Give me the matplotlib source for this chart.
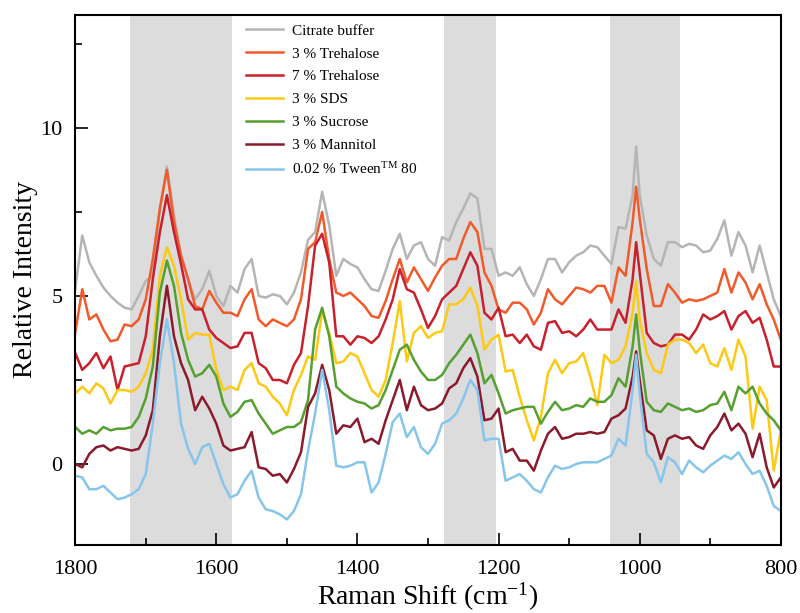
import numpy as np
import matplotlib
matplotlib.use("Agg")
import matplotlib.pyplot as plt

plt.rcParams['font.family'] = ['Liberation Serif', 'DejaVu Serif']
plt.rcParams['mathtext.fontset'] = 'custom'
plt.rcParams['mathtext.rm'] = 'Liberation Serif'
plt.rcParams['mathtext.it'] = 'Liberation Serif:italic'

# Raman shift grid (cm^-1)
wavenumber = [1800, 1790, 1780, 1770, 1760, 1750, 1740, 1730, 1720, 1710,
              1700, 1690, 1680, 1670, 1660, 1650, 1640, 1630, 1620, 1610,
              1600, 1590, 1580, 1570, 1560, 1550, 1540, 1530, 1520, 1510,
              1500, 1490, 1480, 1470, 1460, 1450, 1440, 1430, 1420, 1410,
              1400, 1390, 1380, 1370, 1360, 1350, 1340, 1330, 1320, 1310,
              1300, 1290, 1280, 1270, 1260, 1250, 1240, 1230, 1220, 1210,
              1200, 1190, 1180, 1170, 1160, 1150, 1140, 1130, 1120, 1110,
              1100, 1090, 1080, 1070, 1060, 1050, 1040, 1030, 1020, 1010,
              1005, 1000, 990, 980, 970, 960, 950, 940, 930, 920,
              910, 900, 890, 880, 870, 860, 850, 840, 830, 820,
              810, 800]

citrate = [5.2, 6.8, 6.0, 5.6, 5.25, 5.0, 4.8, 4.65, 4.6, 5.0,
           5.45, 5.6, 7.6, 8.85, 7.4, 6.2, 5.5, 4.9, 5.2, 5.75,
           5.0, 4.7, 5.3, 5.1, 5.8, 6.1, 5.0, 4.95, 5.05, 5.0,
           4.75, 5.1, 5.7, 6.67, 6.9, 8.1, 7.1, 5.6, 6.1, 5.95,
           5.85, 5.5, 5.2, 5.15, 5.75, 6.4, 6.85, 6.1, 6.5, 6.6,
           6.1, 5.9, 6.75, 6.65, 7.2, 7.6, 8.05, 7.9, 6.4, 6.4,
           5.6, 5.7, 5.6, 5.85, 5.35, 5.0, 5.5, 6.1, 6.1, 5.7,
           6.0, 6.2, 6.3, 6.5, 6.45, 6.2, 5.95, 7.05, 7.0, 8.0,
           9.45, 8.0, 6.8, 6.1, 5.9, 6.6, 6.6, 6.45, 6.55, 6.5,
           6.3, 6.35, 6.7, 7.25, 6.2, 6.9, 6.5, 5.7, 6.5, 5.7,
           4.9, 4.4]

treh3 = [3.9, 5.2, 4.3, 4.45, 4.0, 3.65, 3.7, 4.15, 4.1, 4.3,
         4.9, 6.1, 7.6, 8.75, 7.2, 6.2, 5.5, 4.7, 4.6, 5.15,
         4.8, 4.5, 4.5, 4.4, 4.9, 5.2, 4.3, 4.1, 4.3, 4.2,
         4.1, 4.3, 4.9, 6.4, 6.6, 7.5, 6.1, 5.1, 5.0, 5.1,
         4.9, 4.7, 4.4, 4.35, 4.85, 5.5, 6.1, 5.4, 5.85, 5.5,
         5.15, 5.55, 5.9, 6.1, 6.1, 6.7, 7.2, 6.9, 5.7, 5.3,
         4.6, 4.5, 4.8, 4.8, 4.6, 4.15, 4.5, 5.2, 4.9, 4.75,
         5.0, 5.25, 5.2, 5.1, 5.3, 5.3, 4.8, 5.85, 5.6, 7.2,
         8.25, 7.3, 5.8, 4.7, 4.7, 5.35, 5.1, 4.8, 4.9, 4.85,
         4.9, 5.0, 5.1, 5.8, 5.1, 5.7, 5.4, 4.9, 5.35, 4.75,
         4.3, 3.7]

treh7 = [3.3, 2.8, 3.0, 3.3, 2.85, 3.2, 2.2, 2.9, 2.95, 3.0,
         3.8, 5.5, 6.9, 8.0, 6.9, 5.95, 4.9, 4.6, 4.6, 4.0,
         3.75, 3.6, 3.45, 3.5, 3.9, 3.9, 3.0, 2.85, 2.5, 2.5,
         2.4, 2.95, 3.3, 4.7, 6.5, 6.85, 6.0, 3.8, 3.8, 3.55,
         3.8, 3.75, 3.6, 3.8, 4.3, 4.9, 5.8, 5.2, 5.1, 4.6,
         4.05, 4.4, 4.9, 5.1, 5.3, 5.8, 6.3, 5.9, 4.5, 4.3,
         4.65, 3.8, 3.85, 3.6, 3.85, 3.5, 3.4, 4.2, 4.25, 3.9,
         3.95, 3.8, 4.0, 4.3, 4.0, 4.0, 4.0, 4.6, 4.2, 5.5,
         6.6, 5.7, 3.9, 3.6, 3.5, 3.55, 3.85, 3.85, 3.7, 4.0,
         4.45, 4.3, 4.4, 4.55, 4.0, 4.4, 4.55, 4.2, 4.35, 3.7,
         2.9, 2.9]

sds = [2.1, 2.3, 2.1, 2.4, 2.25, 1.8, 2.2, 2.2, 2.15, 2.3,
       2.7, 3.4, 5.6, 6.45, 5.9, 4.9, 3.7, 3.9, 3.85, 3.85,
       2.8, 2.2, 2.3, 2.2, 2.8, 3.0, 2.4, 2.3, 2.0, 1.8,
       1.45, 2.2, 2.65, 3.2, 3.1, 4.55, 3.9, 3.0, 3.05, 3.3,
       3.2, 2.7, 2.2, 2.0, 2.5, 3.6, 4.85, 3.05, 3.9, 4.1,
       3.75, 3.9, 3.95, 4.75, 4.75, 4.9, 5.25, 4.7, 3.4, 3.7,
       3.85, 2.75, 2.8, 2.0, 1.3, 0.7, 1.4, 2.7, 3.1, 2.7,
       3.0, 3.05, 3.3, 2.6, 1.75, 3.25, 3.0, 3.1, 3.5, 4.5,
       5.45, 4.3, 3.3, 2.8, 2.7, 3.55, 3.7, 3.7, 3.6, 3.3,
       3.55, 3.0, 2.9, 3.45, 2.8, 3.7, 3.2, 1.05, 2.3, 1.9,
       -0.2, 1.0]

sucrose = [1.1, 0.9, 1.0, 0.9, 1.1, 1.0, 1.05, 1.05, 1.1, 1.4,
           1.95, 2.9, 5.1, 6.05, 5.3, 3.9, 3.1, 2.6, 2.7, 2.95,
           2.6, 1.8, 1.4, 1.55, 1.85, 1.9, 1.5, 1.2, 0.9, 1.0,
           1.1, 1.1, 1.25, 1.9, 4.0, 4.65, 3.8, 2.3, 2.1, 1.95,
           1.85, 1.8, 1.65, 1.75, 2.2, 2.8, 3.4, 3.55, 3.1, 2.75,
           2.5, 2.5, 2.65, 3.0, 3.25, 3.55, 3.85, 3.3, 2.4, 2.65,
           2.1, 1.5, 1.6, 1.65, 1.7, 1.7, 1.2, 1.55, 1.85, 1.6,
           1.65, 1.75, 1.7, 1.95, 1.85, 1.85, 2.05, 2.55, 2.3, 3.5,
           4.45, 3.4, 1.85, 1.6, 1.55, 1.8, 1.7, 1.6, 1.65, 1.55,
           1.6, 1.75, 1.8, 2.15, 1.6, 2.3, 2.1, 2.3, 1.8, 1.5,
           1.3, 1.0]

mannitol = [0.0, -0.1, 0.3, 0.5, 0.55, 0.4, 0.5, 0.45, 0.4, 0.45,
            0.85, 1.6, 3.8, 5.3, 3.8, 3.0, 2.5, 1.6, 2.0, 1.65,
            1.2, 0.55, 0.4, 0.45, 0.5, 0.95, -0.1, -0.15, -0.35, -0.3,
            -0.55, -0.15, 0.35, 1.7, 2.1, 2.95, 2.2, 0.9, 1.15, 1.1,
            1.35, 0.65, 0.75, 0.6, 1.3, 1.9, 2.5, 1.6, 2.3, 1.75,
            1.6, 1.65, 1.8, 2.25, 2.4, 2.85, 3.15, 2.6, 1.3, 1.35,
            1.65, 0.35, 0.45, 0.1, 0.1, -0.2, 0.4, 0.9, 1.1, 0.75,
            0.8, 0.9, 0.9, 0.95, 0.9, 0.95, 1.35, 1.45, 1.65, 2.6,
            3.35, 2.5, 1.0, 0.85, 0.15, 0.75, 0.85, 0.75, 0.8, 0.55,
            0.45, 0.85, 1.1, 1.5, 1.0, 1.2, 0.9, 0.2, 0.9, -0.1,
            -0.7, -0.4]

tween = [-0.35, -0.4, -0.75, -0.75, -0.65, -0.85, -1.05, -1.0, -0.9, -0.75,
         -0.3, 1.2, 3.0, 4.3, 3.0, 1.2, 0.45, 0.0, 0.5, 0.6,
         0.0, -0.6, -1.0, -0.9, -0.5, -0.2, -1.0, -1.35, -1.4, -1.5,
         -1.65, -1.4, -0.9, 0.4, 1.5, 2.8, 1.6, -0.05, -0.1, -0.05,
         0.05, 0.05, -0.85, -0.55, 0.3, 1.25, 1.5, 0.8, 1.1, 0.5,
         0.3, 0.6, 1.2, 1.3, 1.5, 1.95, 2.5, 2.2, 0.7, 0.75,
         0.75, -0.5, -0.4, -0.3, -0.5, -0.75, -0.85, -0.4, -0.05, -0.15,
         -0.1, 0.0, 0.05, 0.05, 0.05, 0.15, 0.25, 0.75, 0.55, 2.2,
         3.25, 2.1, 0.3, 0.05, -0.55, 0.2, 0.05, -0.3, 0.1, -0.1,
         -0.25, -0.05, 0.1, 0.25, 0.15, 0.35, 0.0, -0.3, -0.2, -0.65,
         -1.25, -1.4]

labels = ["Citrate buffer", "3 % Trehalose", "7 % Trehalose", "3 % SDS",
          "3 % Sucrose", "3 % Mannitol", "0.02 % Tween$^{\\mathrm{TM}}$ 80"]
colors = ["#b5b5b5", "#f15a2b", "#c8202c", "#fcc915", "#55a02f", "#8b1a2c", "#86c5ec"]
series = [citrate, treh3, treh7, sds, sucrose, mannitol, tween]

# shaded regions (cm^-1)
band_hi = [1722, 1277, 1042]
band_lo = [1578, 1203, 943]

fig = plt.figure(figsize=(8.0, 6.13), dpi=100)
ax = fig.add_axes([0.094, 0.111, 0.882, 0.8645])

for hi, lo in zip(band_hi, band_lo):
    ax.axvspan(lo, hi, color="#dcdcdc", lw=0, zorder=0)

for y, c, lab in zip(series, colors, labels):
    ax.plot(wavenumber, y, color=c, lw=1.8, label=lab, zorder=2,
            solid_joinstyle="round")

ax.set_xlim(1800, 800)
ax.set_ylim(-2.41, 13.36)
ax.set_xticks([1800, 1600, 1400, 1200, 1000, 800])
ax.set_xticks([1700, 1500, 1300, 1100, 900], minor=True)
ax.set_yticks([0, 5, 10])
ax.set_yticks([2.5, 7.5, 12.5], minor=True)
ax.tick_params(which="both", direction="in", top=False, right=False,
               labelsize=16, width=1.2)
ax.tick_params(axis="x", which="major", pad=11)
ax.tick_params(axis="y", which="major", pad=9)
ax.tick_params(which="major", length=9)
ax.tick_params(which="minor", length=5)
for s in ax.spines.values():
    s.set_linewidth(1.5)

ax.set_xlabel("Raman Shift (cm$^{-1}$)", fontsize=20, labelpad=1)
ax.set_ylabel("Relative Intensity", fontsize=20, labelpad=2)

leg = ax.legend(loc="upper left", bbox_to_anchor=(246 / 800, 1 - 24 / 613),
                bbox_transform=fig.transFigure, frameon=False, fontsize=11,
                handlelength=2.4, handletextpad=0.6, labelspacing=0.6,
                borderpad=0, borderaxespad=0)

fig.savefig("out.png", dpi=100)
